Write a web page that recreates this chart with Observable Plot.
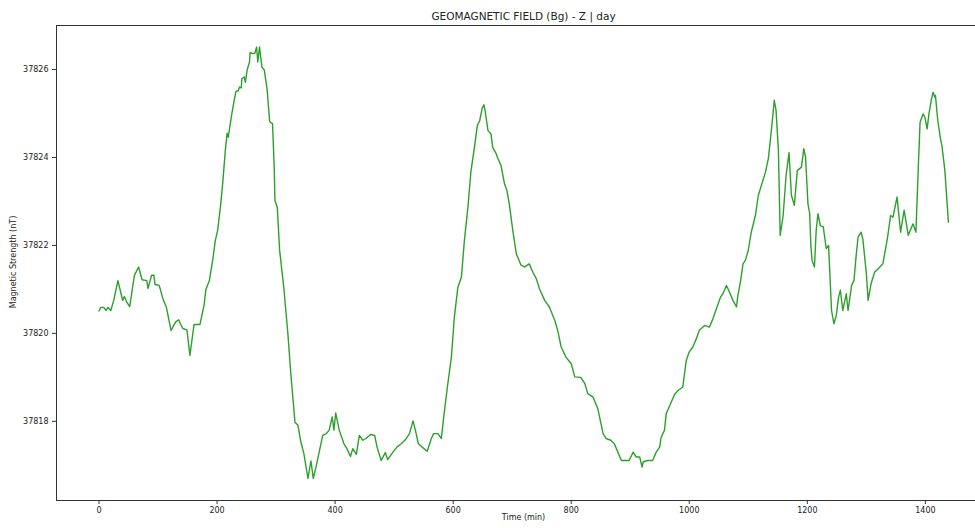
<!DOCTYPE html>
<html>
<head>
<meta charset="utf-8">
<script src="https://cdn.jsdelivr.net/npm/d3@7"></script>
<script src="https://cdn.jsdelivr.net/npm/@observablehq/plot@0.6"></script>
<style>
  html, body { margin: 0; padding: 0; background: #fff; }
  #wrap { position: relative; width: 975px; height: 528px; overflow: hidden; font-family: "DejaVu Sans", sans-serif; color: #222; }
  #wrap svg { position: absolute; left: 0; top: 0; max-width: none !important; }
  .lbl { position: absolute; white-space: nowrap; line-height: 1; }
  #title { left: 56px; width: 935px; top: 11px; text-align: center; font-size: 10.5px; }
  #xlabel { left: 56px; width: 935px; top: 514px; text-align: center; font-size: 8px; }
  #ylabel { left: 14px; top: 262px; font-size: 8px; transform: translate(-50%, -50%) rotate(-90deg); }
</style>
</head>
<body>
<div id="wrap">
  <div id="title" class="lbl">GEOMAGNETIC FIELD (Bg) - Z | day</div>
  <div id="xlabel" class="lbl">Time (min)</div>
  <div id="ylabel" class="lbl">Magnetic Strength (nT)</div>
</div>
<script>
// Minute of the day for each sample
const minutes = [
  0, 3, 8, 12, 15, 20, 25, 32, 36, 40, 43, 47, 52, 60, 67, 73, 81, 83, 89, 93,
  95, 102, 108, 114, 122, 125, 130, 135, 138, 142, 149, 154, 161, 171, 178, 181, 187, 193, 197, 201,
  206, 210, 214, 217, 219, 222, 225, 229, 232, 236, 238, 241, 242, 246, 248, 251, 255, 256, 260, 264,
  267, 269, 272, 276, 280, 285, 289, 290, 294, 297, 298, 302, 306, 313, 320, 325, 332, 337, 342, 347,
  354, 359, 363, 368, 373, 379, 385, 390, 395, 398, 401, 407, 415, 420, 426, 430, 436, 441, 447, 452,
  460, 467, 471, 478, 485, 489, 498, 505, 512, 519, 526, 532, 536, 541, 547, 556, 563, 567, 574, 580,
  584, 591, 597, 602, 608, 614, 619, 625, 630, 636, 641, 645, 649, 652, 654, 659, 664, 667, 673, 676,
  681, 687, 691, 695, 701, 707, 715, 721, 729, 735, 741, 746, 755, 763, 772, 777, 783, 791, 800, 806,
  816, 823, 828, 837, 845, 854, 859, 867, 873, 879, 885, 898, 905, 910, 916, 920, 922, 930, 938, 944,
  950, 952, 958, 961, 967, 975, 981, 989, 995, 1000, 1006, 1012, 1017, 1026, 1034, 1040, 1046, 1053, 1057, 1063,
  1068, 1074, 1080, 1082, 1087, 1091, 1095, 1100, 1105, 1112, 1117, 1122, 1129, 1134, 1139, 1144, 1147, 1151, 1154, 1159,
  1164, 1169, 1173, 1178, 1183, 1190, 1194, 1197, 1201, 1204, 1206, 1208, 1212, 1215, 1218, 1222, 1227, 1232, 1236, 1241,
  1245, 1249, 1253, 1256, 1260, 1266, 1269, 1275, 1279, 1283, 1286, 1291, 1294, 1300, 1303, 1308, 1314, 1320, 1328, 1336,
  1341, 1345, 1352, 1358, 1364, 1371, 1379, 1384, 1388, 1391, 1396, 1399, 1403, 1406, 1410, 1413, 1416, 1417, 1421, 1426,
  1428, 1433, 1439
];

// Vertical (Z) component of the field, nT
const fieldNT = [
  37820.51, 37820.59, 37820.59, 37820.52, 37820.59, 37820.52, 37820.75, 37821.20, 37820.98, 37820.75,
  37820.84, 37820.71, 37820.61, 37821.32, 37821.51, 37821.22, 37821.20, 37821.02, 37821.32, 37821.32,
  37821.11, 37821.09, 37820.80, 37820.60, 37820.07, 37820.14, 37820.26, 37820.31, 37820.22, 37820.11,
  37820.08, 37819.50, 37820.20, 37820.20, 37820.64, 37820.99, 37821.20, 37821.70, 37822.11, 37822.34,
  37822.91, 37823.48, 37824.16, 37824.55, 37824.46, 37824.73, 37824.99, 37825.30, 37825.50, 37825.52,
  37825.60, 37825.58, 37825.79, 37825.83, 37825.71, 37825.99, 37826.17, 37826.39, 37826.36, 37826.37,
  37826.51, 37826.17, 37826.51, 37826.05, 37825.99, 37825.52, 37824.84, 37824.80, 37824.77, 37823.70,
  37823.02, 37822.87, 37821.89, 37821.05, 37819.99, 37819.08, 37817.98, 37817.91, 37817.53, 37817.27,
  37816.70, 37817.10, 37816.70, 37816.98, 37817.30, 37817.68, 37817.72, 37817.80, 37818.10, 37817.80,
  37818.19, 37817.80, 37817.49, 37817.38, 37817.20, 37817.38, 37817.25, 37817.68, 37817.57, 37817.61,
  37817.70, 37817.68, 37817.42, 37817.11, 37817.29, 37817.13, 37817.30, 37817.42, 37817.49, 37817.58,
  37817.72, 37818.01, 37817.80, 37817.49, 37817.42, 37817.32, 37817.61, 37817.72, 37817.72, 37817.61,
  37818.10, 37818.86, 37819.46, 37820.37, 37821.05, 37821.28, 37822.11, 37822.87, 37823.67, 37824.23,
  37824.73, 37824.84, 37825.11, 37825.20, 37825.07, 37824.61, 37824.54, 37824.23, 37824.08, 37823.97,
  37823.82, 37823.40, 37823.25, 37822.95, 37822.34, 37821.81, 37821.55, 37821.51, 37821.58, 37821.39,
  37821.24, 37821.02, 37820.75, 37820.60, 37820.30, 37820.07, 37819.69, 37819.46, 37819.31, 37819.01,
  37819.00, 37818.86, 37818.63, 37818.55, 37818.29, 37817.72, 37817.61, 37817.57, 37817.49, 37817.30,
  37817.11, 37817.11, 37817.30, 37817.19, 37817.19, 37816.96, 37817.08, 37817.11, 37817.11, 37817.30,
  37817.42, 37817.62, 37817.80, 37818.18, 37818.36, 37818.61, 37818.70, 37818.78, 37819.39, 37819.58,
  37819.69, 37819.88, 37820.07, 37820.18, 37820.14, 37820.33, 37820.56, 37820.83, 37820.90, 37821.09,
  37820.94, 37820.75, 37820.60, 37820.83, 37821.20, 37821.58, 37821.66, 37821.89, 37822.30, 37822.68,
  37823.14, 37823.36, 37823.66, 37823.98, 37824.61, 37825.30, 37825.07, 37824.16, 37822.23, 37822.68,
  37823.59, 37824.11, 37823.14, 37822.91, 37823.70, 37823.78, 37824.20, 37824.01, 37822.95, 37822.72,
  37822.00, 37821.66, 37821.51, 37822.34, 37822.72, 37822.45, 37822.42, 37821.93, 37822.00, 37820.52,
  37820.22, 37820.41, 37820.83, 37820.98, 37820.52, 37820.90, 37820.52, 37821.09, 37821.20, 37821.81,
  37822.19, 37822.30, 37822.15, 37821.36, 37820.75, 37821.13, 37821.39, 37821.47, 37821.58, 37822.19,
  37822.68, 37822.64, 37823.10, 37822.30, 37822.80, 37822.23, 37822.49, 37822.30, 37823.78, 37824.80,
  37824.99, 37824.92, 37824.65, 37824.99, 37825.30, 37825.48, 37825.37, 37825.41, 37824.84, 37824.39,
  37824.27, 37823.70, 37822.53
];

const xTicks = [0, 200, 400, 600, 800, 1000, 1200, 1400];
const yTicks = [37818, 37820, 37822, 37824, 37826];

const rows = minutes.map((t, i) => ({t, v: fieldNT[i]}));

const chart = Plot.plot({
  width: 991,
  height: 528,
  marginTop: 25,
  marginBottom: 28,
  marginLeft: 56,
  marginRight: 0,
  style: {
    fontFamily: "DejaVu Sans, sans-serif",
    fontSize: "8px",
    color: "#222",
    background: "transparent",
    maxWidth: "none",
    overflow: "visible"
  },
  x: {domain: [-72, 1512]},
  y: {domain: [37816.2, 37827.0]},
  marks: [
    Plot.line(rows, {x: "t", y: "v", stroke: "#2ca02c", strokeWidth: 1.4, curve: "linear"}),
    Plot.frame({stroke: "#333", strokeWidth: 1}),
    Plot.axisX({ticks: xTicks, tickFormat: d => String(d), tickSize: 4, tickPadding: 3, label: null, stroke: "#333"}),
    Plot.axisY({ticks: yTicks, tickFormat: d => String(d), tickSize: 4, tickPadding: 4, label: null, stroke: "#333"})
  ]
});

document.getElementById("wrap").prepend(chart);
</script>
</body>
</html>
